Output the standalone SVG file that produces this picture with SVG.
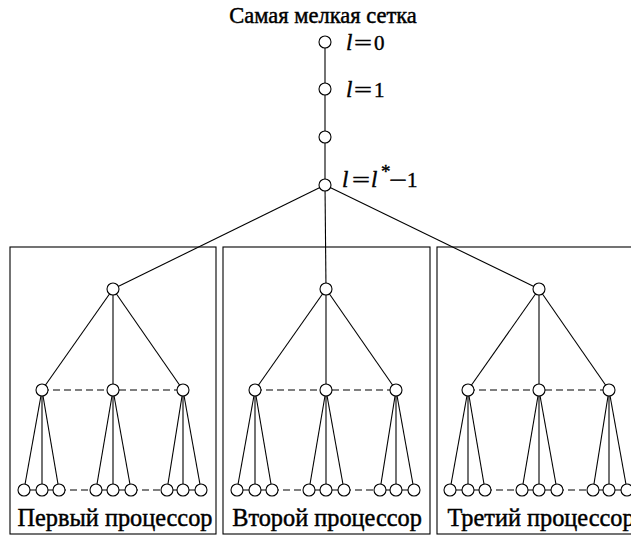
<svg xmlns="http://www.w3.org/2000/svg" width="631" height="537" viewBox="0 0 631 537">
<defs>
<style>
.e{stroke:#000;stroke-width:1.1;fill:none}
.d{stroke:#000;stroke-width:1.1;fill:none;stroke-dasharray:7,4}
.n{fill:#fff;stroke:#000;stroke-width:1.1}
.box{fill:none;stroke:#000;stroke-width:1.1}
.t{font-family:"Liberation Serif",serif;fill:#000;stroke:#000;stroke-width:0.45}
.lab{font-family:"Liberation Serif",serif;font-size:24.3px;fill:#000;stroke:#000;stroke-width:0.45;text-anchor:middle}
.lv{font-family:"Liberation Serif",serif;font-size:21px;fill:#000;stroke:#000;stroke-width:0.4}
.il{font-style:italic;font-size:23px}
</style>
<g id="sub">
<line class="e" x1="0" y1="0" x2="-71" y2="101"/>
<line class="e" x1="0" y1="0" x2="0" y2="101"/>
<line class="e" x1="0" y1="0" x2="70" y2="101"/>
<line class="d" x1="-71" y1="101" x2="70" y2="101"/>
<line class="e" x1="-71" y1="101" x2="-89" y2="201"/>
<line class="e" x1="-71" y1="101" x2="-71" y2="201"/>
<line class="e" x1="-71" y1="101" x2="-54" y2="201"/>
<line class="e" x1="0" y1="101" x2="-17" y2="201"/>
<line class="e" x1="0" y1="101" x2="0" y2="201"/>
<line class="e" x1="0" y1="101" x2="18" y2="201"/>
<line class="e" x1="70" y1="101" x2="54" y2="201"/>
<line class="e" x1="70" y1="101" x2="70" y2="201"/>
<line class="e" x1="70" y1="101" x2="88" y2="201"/>
<line class="e" x1="-89" y1="201" x2="-54" y2="201"/>
<line class="d" x1="-54" y1="201" x2="-17" y2="201"/>
<line class="e" x1="-17" y1="201" x2="18" y2="201"/>
<line class="d" x1="18" y1="201" x2="54" y2="201"/>
<line class="e" x1="54" y1="201" x2="88" y2="201"/>
<circle class="n" cx="0" cy="0" r="6"/>
<circle class="n" cx="-71" cy="101" r="6"/>
<circle class="n" cx="0" cy="101" r="6"/>
<circle class="n" cx="70" cy="101" r="6"/>
<circle class="n" cx="-89" cy="201" r="6"/>
<circle class="n" cx="-71" cy="201" r="6"/>
<circle class="n" cx="-54" cy="201" r="6"/>
<circle class="n" cx="-17" cy="201" r="6"/>
<circle class="n" cx="0" cy="201" r="6"/>
<circle class="n" cx="18" cy="201" r="6"/>
<circle class="n" cx="54" cy="201" r="6"/>
<circle class="n" cx="70" cy="201" r="6"/>
<circle class="n" cx="88" cy="201" r="6"/>
</g>
</defs>
<rect width="631" height="537" fill="#fff"/>
<g id="connectors">
<line class="e" x1="325" y1="42" x2="325" y2="185"/>
<line class="e" x1="325" y1="185" x2="113" y2="289"/>
<line class="e" x1="325" y1="185" x2="326" y2="289"/>
<line class="e" x1="325" y1="185" x2="539" y2="289"/>
</g>
<g id="title"><text class="t" x="323" y="23" font-size="22.5" text-anchor="middle">Самая мелкая сетка</text></g>
<g id="level0"><circle class="n" cx="325" cy="42" r="6"/><text class="lv" x="346" y="50"><tspan class="il">l</tspan><tspan x="354" textLength="18" lengthAdjust="spacingAndGlyphs">=</tspan><tspan x="374">0</tspan></text></g>
<g id="level1"><circle class="n" cx="325" cy="89" r="6"/><text class="lv" x="346" y="97"><tspan class="il">l</tspan><tspan x="354" textLength="18" lengthAdjust="spacingAndGlyphs">=</tspan><tspan x="374">1</tspan></text></g>
<g id="level2"><circle class="n" cx="325" cy="137" r="6"/></g>
<g id="levelstar"><circle class="n" cx="325" cy="185" r="6"/><text class="lv" x="342" y="187"><tspan class="il">l</tspan><tspan x="352" textLength="18" lengthAdjust="spacingAndGlyphs">=</tspan><tspan class="il" x="371">l</tspan><tspan x="381" dy="-9" font-size="19">*</tspan><tspan x="389" dy="9" textLength="18" lengthAdjust="spacingAndGlyphs">−</tspan><tspan x="407">1</tspan></text></g>
<g id="proc1">
<rect class="box" x="10" y="247" width="206" height="287"/>
<use href="#sub" x="113" y="289"/>
<text class="lab" x="115" y="526">Первый процессор</text>
</g>
<g id="proc2">
<rect class="box" x="223" y="247" width="207" height="287"/>
<use href="#sub" x="326" y="289"/>
<text class="lab" x="327" y="526">Второй процессор</text>
</g>
<g id="proc3">
<rect class="box" x="437" y="247" width="206" height="287"/>
<use href="#sub" x="539" y="289"/>
<text class="lab" x="541" y="526">Третий процессор</text>
</g>
</svg>
